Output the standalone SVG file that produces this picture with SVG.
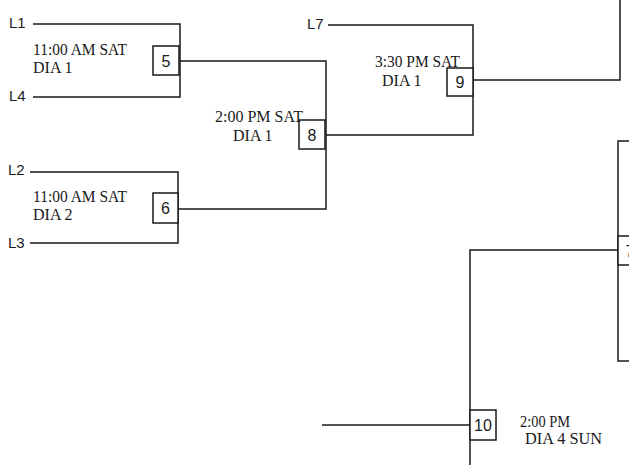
<svg xmlns="http://www.w3.org/2000/svg" width="629" height="465" viewBox="0 0 629 465">
<style>
.ln{stroke:#1a1a1a;stroke-width:1.5;fill:none}
.bx{stroke:#1a1a1a;stroke-width:1.5;fill:#fff}
.lab{font-family:"Liberation Sans",Arial,sans-serif;font-size:15px;fill:#1a1a1a}
.num{font-family:"Liberation Sans",Arial,sans-serif;font-size:16px;fill:#1a1a1a;text-anchor:middle}
.info{font-family:"Liberation Serif","Times New Roman",serif;font-size:16px;fill:#1a1a1a}
</style>
<rect width="629" height="465" fill="#fff"/>
<g id="connectors">
<path class="ln" d="M33 24H180V97H33"/>
<path class="ln" d="M180 61H326V209H178"/>
<path class="ln" d="M30 172H178V243H30"/>
<path class="ln" d="M326 135H473V25H328"/>
<path class="ln" d="M473 80H620V0"/>
<path class="ln" d="M629 141H618V361H629"/>
<path class="ln" d="M618 250H470V465"/>
<path class="ln" d="M322 425H470"/>
</g>
<g id="teams">
<text class="lab" x="9" y="28">L1</text>
<text class="lab" x="9" y="101">L4</text>
<text class="lab" x="8" y="175">L2</text>
<text class="lab" x="8" y="248">L3</text>
<text class="lab" x="307" y="29">L7</text>
</g>
<g id="node5">
<rect class="bx" x="153" y="46" width="26" height="29"/>
<text class="num" x="166" y="67">5</text>
<text class="info" x="33" y="55" textLength="94" lengthAdjust="spacingAndGlyphs">11:00 AM SAT</text>
<text class="info" x="33" y="73">DIA 1</text>
</g>
<g id="node6">
<rect class="bx" x="153" y="193" width="25" height="30"/>
<text class="num" x="165.5" y="214">6</text>
<text class="info" x="33" y="202" textLength="94" lengthAdjust="spacingAndGlyphs">11:00 AM SAT</text>
<text class="info" x="33" y="220">DIA 2</text>
</g>
<g id="node8">
<rect class="bx" x="299" y="120" width="26" height="29"/>
<text class="num" x="312" y="141">8</text>
<text class="info" x="215" y="122" textLength="88" lengthAdjust="spacingAndGlyphs">2:00 PM SAT</text>
<text class="info" x="233" y="141">DIA 1</text>
</g>
<g id="node9">
<text class="info" x="375" y="67" textLength="85" lengthAdjust="spacingAndGlyphs">3:30 PM SAT</text>
<text class="info" x="382" y="86">DIA 1</text>
<rect class="bx" x="447" y="68" width="26" height="28"/>
<text class="num" x="460" y="88">9</text>
</g>
<g id="node7">
<rect class="bx" x="618" y="236" width="24" height="29"/>
<text class="num" x="630" y="257">7</text>
</g>
<g id="node10">
<rect class="bx" x="470" y="410" width="26" height="30"/>
<text class="num" x="483" y="431">10</text>
<text class="info" x="520" y="427" textLength="50" lengthAdjust="spacingAndGlyphs">2:00 PM</text>
<text class="info" x="525" y="444" textLength="77" lengthAdjust="spacingAndGlyphs">DIA 4  SUN</text>
</g>
</svg>
